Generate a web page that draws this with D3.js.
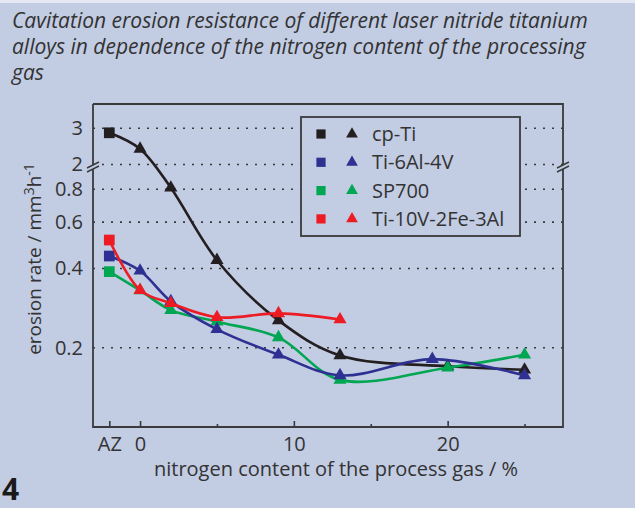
<!DOCTYPE html>
<html>
<head>
<meta charset="utf-8">
<script src="https://cdn.jsdelivr.net/npm/d3@7"></script>
<style>
    body { margin: 0; background: #c2cce3; }
    text { font-family: "Open Sans", sans-serif; fill: #333; }
</style>
</head>
<body>
<div id="chart"></div>
<script>
// nitrogen content of the process gas in %, "AZ" = untreated (drawn left of 0)
var cpTiX = ["AZ", 0, 2, 5, 9, 13, 20, 25];
var cpTiY = [2.85, 2.38, 0.81, 0.43, 0.254, 0.187, 0.170, 0.165];

var ti64X = ["AZ", 0, 2, 5, 9, 13, 19, 25];
var ti64Y = [0.446, 0.392, 0.300, 0.235, 0.188, 0.157, 0.181, 0.157];

var sp700X = ["AZ", 0, 2, 5, 9, 13, 20, 25];
var sp700Y = [0.389, 0.33, 0.278, 0.251, 0.219, 0.151, 0.168, 0.188];

var ti10X = ["AZ", 0, 2, 5, 9, 13];
var ti10Y = [0.513, 0.331, 0.295, 0.261, 0.270, 0.256];

var seriesNames = ["cp-Ti", "Ti-6Al-4V", "SP700", "Ti-10V-2Fe-3Al"];
var seriesColors = ["#231f20", "#2e3192", "#00a651", "#ed1c24"];

var xTickLabels = ["AZ", "0", "10", "20"];
var yTicksLow = [0.2, 0.4, 0.6, 0.8];
var yTicksHigh = [2, 3];

var titleLines = [
    "Cavitation erosion resistance of different laser nitride titanium",
    "alloys in dependence of the nitrogen content of the processing",
    "gas"
];

function createChart() {
    var W = 635, H = 508;
    var margin = { top: 104, right: 72, bottom: 81, left: 93 };
    var width = W - margin.left - margin.right;
    var height = H - margin.top - margin.bottom;
    var breakY = 68; // where the broken axis switches scale
    var bg = "#c2cce3";
    var axisColor = "#3a3a3a";

    var svg = d3.select("#chart")
        .append("svg")
        .attr("width", W)
        .attr("height", H);

    svg.append("rect").attr("width", W).attr("height", H).attr("fill", bg);
    svg.append("rect").attr("width", W).attr("height", 3).attr("fill", "#e4e9f3");

    // title
    svg.append("g").selectAll("text")
        .data(titleLines)
        .enter()
        .append("text")
        .attr("x", 12)
        .attr("y", function (d, i) { return 28 + i * 26; })
        .style("font-size", "21px")
        .style("font-style", "italic")
        .text(function (d) { return d; });

    // figure number
    svg.append("text")
        .attr("x", 2)
        .attr("y", 500)
        .style("font-size", "30px")
        .style("font-weight", "bold")
        .style("fill", "#1a1a1a")
        .text("4");

    var g = svg.append("g")
        .attr("transform", "translate(" + margin.left + "," + margin.top + ")");

    var xScale = d3.scaleLinear()
        .domain([-3.06, 27.5])
        .range([0, width]);

    // AZ sits at -2 on the axis
    function xVal(d) { return d === "AZ" ? -2 : d; }

    var yLow = d3.scaleLog().domain([0.1, 0.93]).range([height, breakY]);
    var yHigh = d3.scaleLog().domain([1.84, 3.93]).range([breakY, 0]);
    function yPos(v) { return v >= 1.5 ? yHigh(v) : yLow(v); }

    // dotted grid lines
    g.append("g").selectAll("line")
        .data(yTicksLow.concat(yTicksHigh))
        .enter()
        .append("line")
        .attr("x1", 0)
        .attr("x2", width)
        .attr("y1", function (d) { return yPos(d); })
        .attr("y2", function (d) { return yPos(d); })
        .attr("stroke", axisColor)
        .attr("stroke-width", 1.6)
        .attr("stroke-dasharray", "2,7");

    // y tick labels
    g.append("g")
        .attr("class", "y-axis")
        .call(d3.axisLeft(yLow).tickValues(yTicksLow).tickSize(0).tickPadding(10).tickFormat(d3.format(".1f")))
        .call(function (a) { a.select(".domain").remove(); });
    g.append("g")
        .attr("class", "y-axis")
        .call(d3.axisLeft(yHigh).tickValues(yTicksHigh).tickSize(0).tickPadding(10).tickFormat(d3.format("d")))
        .call(function (a) { a.select(".domain").remove(); });

    // x axis, major ticks with labels
    var xAxis = g.append("g")
        .attr("class", "x-axis")
        .attr("transform", "translate(0," + height + ")")
        .call(d3.axisBottom(xScale).tickValues([-2, 0, 10, 20]).tickSize(-6).tickPadding(10)
            .tickFormat(function (d, i) { return xTickLabels[i]; }));
    xAxis.select(".domain").remove();

    // minor ticks
    g.append("g")
        .attr("transform", "translate(0," + height + ")")
        .call(d3.axisBottom(xScale).tickValues([5, 15, 25]).tickSize(-3).tickFormat(""))
        .call(function (a) { a.select(".domain").remove(); });

    g.selectAll(".tick text").style("font-size", "20px").style("fill", "#333").style("font-family", "'Open Sans', sans-serif");
    g.selectAll(".tick line").attr("stroke", axisColor).attr("stroke-width", 1.6);

    // frame: left, bottom, right, top
    g.append("path")
        .attr("d", "M0,0V" + height + "H" + width + "V0H0")
        .attr("fill", "none")
        .attr("stroke", axisColor)
        .attr("stroke-width", 1.8);

    // axis break marks
    [0, width].forEach(function (bx) {
        var mark = g.append("g").attr("transform", "translate(" + bx + "," + (breakY - 5) + ")");
        mark.append("path")
            .attr("d", "M-6,1L6,-5L6,-1L-6,5Z")
            .attr("fill", bg);
        mark.append("line").attr("x1", -6).attr("y1", 1).attr("x2", 6).attr("y2", -5)
            .attr("stroke", axisColor).attr("stroke-width", 1.4);
        mark.append("line").attr("x1", -6).attr("y1", 5).attr("x2", 6).attr("y2", -1)
            .attr("stroke", axisColor).attr("stroke-width", 1.4);
    });

    // axis titles
    svg.append("text")
        .attr("x", 336)
        .attr("y", 476)
        .style("text-anchor", "middle")
        .style("font-size", "20px")
        .text("nitrogen content of the process gas / %");

    var yTitle = svg.append("text")
        .attr("transform", "translate(41,259) rotate(-90)")
        .style("text-anchor", "middle")
        .style("font-size", "19px");
    yTitle.append("tspan").text("erosion rate / mm");
    yTitle.append("tspan").attr("dy", -7).style("font-size", "14px").text("3");
    yTitle.append("tspan").attr("dy", 7).text("h");
    yTitle.append("tspan").attr("dy", -7).style("font-size", "14px").text("-1");

    // the series
    var allSeries = [
        { x: cpTiX, y: cpTiY },
        { x: ti64X, y: ti64Y },
        { x: sp700X, y: sp700Y },
        { x: ti10X, y: ti10Y }
    ];

    var line = d3.line()
        .x(function (d) { return xScale(xVal(d[0])); })
        .y(function (d) { return yPos(d[1]); })
        .curve(d3.curveCatmullRom.alpha(0.5));

    var square = d3.symbol().type(d3.symbolSquare).size(115);
    var triangle = d3.symbol().type(d3.symbolTriangle).size(75);

    // draw order so red ends up on top like in the picture
    [0, 2, 1, 3].forEach(function (k) {
        var s = allSeries[k];
        var pts = d3.zip(s.x, s.y);

        g.append("path")
            .datum(pts)
            .attr("d", line)
            .attr("fill", "none")
            .attr("stroke", seriesColors[k])
            .attr("stroke-width", 2.6);

        g.append("g").selectAll("path")
            .data(pts)
            .enter()
            .append("path")
            .attr("transform", function (d) {
                return "translate(" + xScale(xVal(d[0])) + "," + yPos(d[1]) + ")";
            })
            .attr("d", function (d) { return d[0] === "AZ" ? square() : triangle(); })
            .attr("fill", seriesColors[k]);
    });

    // legend
    var legend = svg.append("g")
        .attr("transform", "translate(301,117)");

    legend.append("rect")
        .attr("width", 219)
        .attr("height", 119)
        .attr("fill", bg)
        .attr("stroke", axisColor)
        .attr("stroke-width", 1.8);

    var rows = legend.selectAll(".row")
        .data(seriesNames)
        .enter()
        .append("g")
        .attr("class", "row")
        .attr("transform", function (d, i) { return "translate(0," + (17 + i * 28.3) + ")"; });

    rows.append("path")
        .attr("transform", "translate(20,0)")
        .attr("d", d3.symbol().type(d3.symbolSquare).size(85)())
        .attr("fill", function (d, i) { return seriesColors[i]; });

    rows.append("path")
        .attr("transform", "translate(51,0)")
        .attr("d", d3.symbol().type(d3.symbolTriangle).size(60)())
        .attr("fill", function (d, i) { return seriesColors[i]; });

    rows.append("text")
        .attr("x", 71)
        .attr("y", 7)
        .style("font-size", "20px")
        .text(function (d) { return d; });
}

createChart();
</script>
</body>
</html>
